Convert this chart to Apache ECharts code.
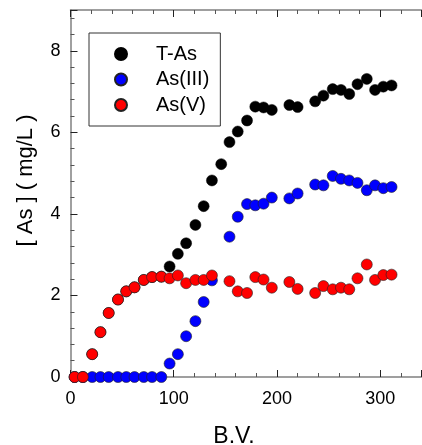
<!DOCTYPE html>
<html><head><meta charset="utf-8">
<script src="https://cdn.jsdelivr.net/npm/echarts@6/dist/echarts.min.js"></script>
<style>html,body{margin:0;padding:0;background:#fff}#c{width:422px;height:445px}</style>
</head><body><div id="c"></div>
<script>
var bv = [4, 12, 21, 29, 37, 46, 54, 62, 71, 79, 88, 96, 104, 112, 121, 129, 137, 146, 154, 162, 171, 179, 187, 195, 212, 220, 237, 245, 254, 262, 270, 278, 287, 295, 303, 311];
var tAs = [0, 0, 0.56, 1.1, 1.57, 1.9, 2.1, 2.2, 2.38, 2.45, 2.46, 2.71, 3.02, 3.28, 3.73, 4.19, 4.82, 5.22, 5.76, 6.02, 6.29, 6.63, 6.61, 6.55, 6.67, 6.62, 6.76, 6.9, 7.06, 7.04, 6.94, 7.18, 7.31, 7.04, 7.12, 7.15];
var asIII = [0, 0, 0, 0, 0, 0, 0, 0, 0, 0, 0, 0.33, 0.56, 1.0, 1.37, 1.84, 2.37, null, 3.44, 3.93, 4.24, 4.21, 4.25, 4.4, 4.38, 4.5, 4.72, 4.7, 4.93, 4.86, 4.82, 4.76, 4.58, 4.7, 4.63, 4.66];
var asV = [0, 0, 0.56, 1.1, 1.57, 1.9, 2.1, 2.2, 2.38, 2.45, 2.46, 2.42, 2.49, 2.3, 2.38, 2.38, 2.49, null, 2.35, 2.1, 2.06, 2.45, 2.39, 2.19, 2.33, 2.16, 2.06, 2.23, 2.15, 2.19, 2.15, 2.42, 2.76, 2.38, 2.5, 2.51];
var seriesNames = ['T-As', 'As(III)', 'As(V)'];
var seriesColors = ['#000000', '#0000ff', '#ff0000'];
var xTicks = [0, 100, 200, 300];
var yTicks = [0, 2, 4, 6, 8];

function pairs(vals) {
  var out = [];
  for (var i = 0; i < bv.length; i++) if (vals[i] !== null) out.push([bv[i], vals[i]]);
  return out;
}
var font = 'Liberation Sans, Arial, sans-serif';
var chart = echarts.init(document.getElementById('c'), null, {renderer: 'canvas'});
var axisCommon = {
  axisLine: {show: true, lineStyle: {color: '#808080', width: 1.5}},
  axisTick: {show: true, inside: true, length: 7, lineStyle: {color: '#222', width: 1}},
  minorTick: {show: true, splitNumber: 5, length: 4, lineStyle: {color: '#555', width: 1}},
  splitLine: {show: false}
};
chart.setOption({
  animation: false,
  grid: {left: 70.5, right: 0.5, top: 10, bottom: 68, containLabel: false, outerBoundsMode: 'none'},
  legend: {
    orient: 'vertical', left: 89, top: 33,
    data: seriesNames,
    icon: 'circle', itemWidth: 12, itemHeight: 12, itemGap: 5.5,
    padding: [11, 11, 11, 25],
    borderColor: '#333', borderWidth: 1,
    textStyle: {fontFamily: font, fontSize: 20, color: '#000', lineHeight: 20, padding: [0, 0, 0, 24]}
  },
  xAxis: [
    Object.assign({}, axisCommon, {
      type: 'value', min: 0, max: 340, interval: 100, position: 'bottom',
      axisLabel: {fontFamily: font, fontSize: 18, color: '#000', margin: 13,
        formatter: function (v) { return xTicks.indexOf(v) >= 0 ? String(v) : ''; }},
      name: 'B.V.', nameLocation: 'middle', nameGap: 48,
      nameTextStyle: {fontFamily: font, fontSize: 23, color: '#000', padding: [0, 24, 0, 0]}
    }),
    Object.assign({}, axisCommon, {
      type: 'value', min: 0, max: 340, interval: 100, position: 'top',
      axisLabel: {show: false}
    })
  ],
  yAxis: Object.assign({}, axisCommon, {
    type: 'value', min: 0, max: 9, interval: 2,
    axisLabel: {fontFamily: font, fontSize: 18, color: '#000', margin: 10, showMaxLabel: false,
      formatter: function (v) { return yTicks.indexOf(v) >= 0 ? String(v) : ''; }},
    name: '[ As ] ( mg/L )', nameLocation: 'middle', nameGap: 34, nameRotate: 90,
    nameTextStyle: {fontFamily: font, fontSize: 22, color: '#000', padding: [0, 0, 0, 26]}
  }),
  series: [
    {name: seriesNames[0], type: 'scatter', data: pairs(tAs), symbolSize: 11,
     itemStyle: {color: seriesColors[0], borderColor: '#000', borderWidth: 0.5, opacity: 1}},
    {name: seriesNames[1], type: 'scatter', data: pairs(asIII), symbolSize: 11,
     itemStyle: {color: seriesColors[1], borderColor: '#222', borderWidth: 0.6, opacity: 1}},
    {name: seriesNames[2], type: 'scatter', data: pairs(asV), symbolSize: 11,
     itemStyle: {color: seriesColors[2], borderColor: '#222', borderWidth: 0.6, opacity: 1}}
  ]
});
</script></body></html>
